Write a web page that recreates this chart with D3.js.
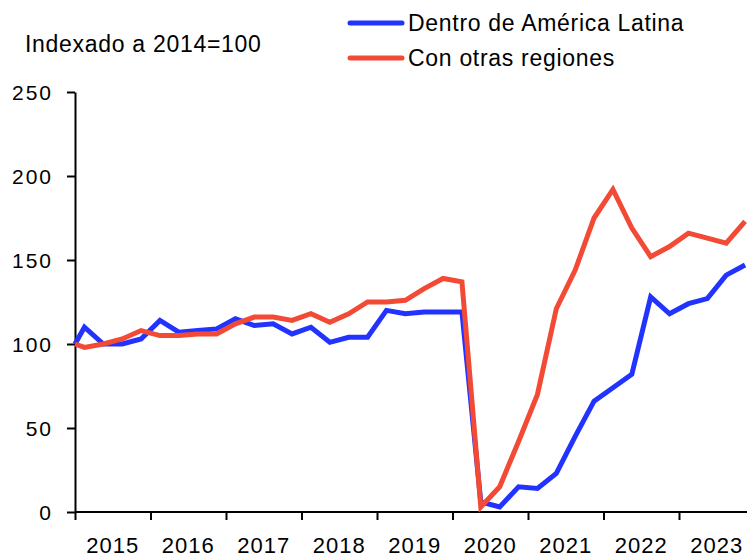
<!DOCTYPE html>
<html>
<head>
<meta charset="utf-8">
<script src="https://cdn.jsdelivr.net/npm/d3@7"></script>
<style>
  body { margin: 0; background: #fff; }
  svg text { font-family: "Liberation Sans", Arial, sans-serif; fill: #000; }
</style>
</head>
<body>
<svg width="747" height="557"></svg>
<script>
// base point (2014 = 100) followed by quarters 2015Q1 .. 2023Q4
const years = [2015, 2016, 2017, 2018, 2019, 2020, 2021, 2022, 2023]
const yTicks = [0, 50, 100, 150, 200, 250]
const dentro = [100,
  110, 100, 100, 103,
  114, 107, 108, 109,
  115, 111, 112, 106,
  110, 101, 104, 104,
  120, 118, 119, 119,
  119, 6, 3, 15,
  14, 23, 45, 66,
  74, 82, 128, 118,
  124, 127, 141, 147]
const otras = [100,
  98, 100, 103, 108,
  105, 105, 106, 106,
  112, 116, 116, 114,
  118, 113, 118, 125,
  125, 126, 133, 139,
  137, 3, 15, 42,
  70, 121, 144, 175,
  192, 169, 152, 158,
  166, 163, 160, 173]
const seriesNames = ['Dentro de América Latina', 'Con otras regiones']
const colors = ['#2233ff', '#f24a35']

// time positions: base at start of 2015, then quarter centres
const times = [years[0]]
years.forEach((yr) => {
  for (let q = 1; q <= 4; q++) times.push(yr + (q - 0.5) / 4)
})

const svg = d3.select('svg'),
  width = +svg.attr('width')

const x = d3.scaleLinear().domain([2015, 2024]).range([75, 754.5])
const y = d3.scaleLinear().domain([0, 250]).range([512, 92])

// y axis
const yAxis = svg.append('g')
  .attr('transform', 'translate(75,0)')
  .call(d3.axisLeft(y).tickValues(yTicks).tickSize(8).tickPadding(14).tickSizeOuter(0))
yAxis.select('.domain').attr('stroke', '#000').attr('stroke-width', 2)
yAxis.selectAll('.tick line').attr('stroke', '#000').attr('stroke-width', 2)
yAxis.selectAll('.tick text')
  .style('font-size', '21px')
  .attr('letter-spacing', '2')
  .attr('dy', '0.36em')

// x axis
const xAxis = svg.append('g')
  .attr('transform', 'translate(0,512)')
  .call(d3.axisBottom(x).tickValues(years).tickSize(8).tickFormat('').tickSizeOuter(0))
xAxis.select('.domain').attr('d', `M75,0H${width}`).attr('stroke', '#000').attr('stroke-width', 2)
xAxis.selectAll('.tick line').attr('stroke', '#000').attr('stroke-width', 2)

svg.append('g')
  .selectAll('text')
  .data(years)
  .enter()
  .append('text')
  .attr('x', (d) => x(d + 0.5))
  .attr('y', 553)
  .attr('text-anchor', 'middle')
  .attr('letter-spacing', '1')
  .style('font-size', '22px')
  .text((d) => d)

// lines
const line = d3.line()
  .x((d, i) => x(times[i]))
  .y((d) => y(d))

;[dentro, otras].forEach((vals, k) => {
  svg.append('path')
    .datum(vals)
    .attr('d', line)
    .attr('fill', 'none')
    .attr('stroke', colors[k])
    .attr('stroke-width', 5)
    .attr('stroke-linejoin', 'miter')
})

// unit label
svg.append('text')
  .attr('x', 25)
  .attr('y', 52)
  .attr('letter-spacing', '0.7')
  .style('font-size', '23px')
  .text('Indexado a 2014=100')

// legend
const legend = svg.append('g')
seriesNames.forEach((name, k) => {
  const ly = 23 + k * 35
  legend.append('line')
    .attr('x1', 350).attr('x2', 402)
    .attr('y1', ly).attr('y2', ly)
    .attr('stroke', colors[k])
    .attr('stroke-width', 5)
    .attr('stroke-linecap', 'round')
  legend.append('text')
    .attr('x', 408)
    .attr('y', ly)
    .attr('dy', '0.36em')
    .attr('letter-spacing', '0.7')
    .style('font-size', '23px')
    .text(name)
})
</script>
</body>
</html>
